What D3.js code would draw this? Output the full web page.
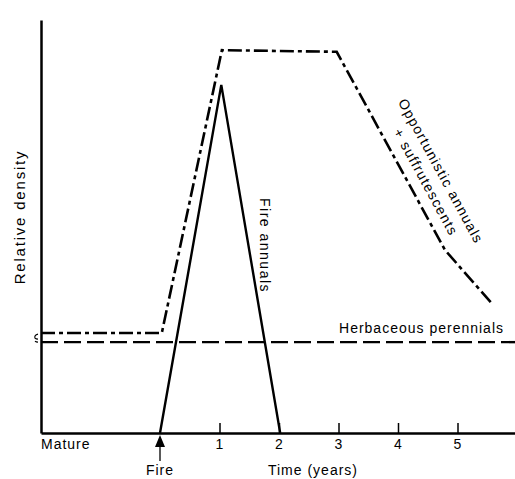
<!DOCTYPE html>
<html>
<head>
<meta charset="utf-8">
<script src="https://cdn.jsdelivr.net/npm/d3@7"></script>
<style>
  html, body { margin: 0; padding: 0; background: #fff; }
  svg { display: block; }
  text { font-family: "Liberation Sans", Arial, sans-serif; font-size: 14px; fill: #000; letter-spacing: 1px; }
</style>
</head>
<body>
<svg id="chart" width="515" height="479"></svg>
<script>
// ---- data (time in years relative to fire; relative density 0-100) ----
const opportunisticTime   = [-2, 0.03, 1.04, 2.97, 4.79, 5.6];
const opportunisticValue  = [24.2, 24.2, 92.7, 92.3, 44.3, 31.0];
const fireAnnualTime      = [0, 1.03, 2.02];
const fireAnnualValue     = [0, 84.3, 0];
const perennialTime       = [-2, 6];
const perennialValue      = [22, 22];
const tickYears           = [1, 2, 3, 4, 5];
const tickLabels          = ["1", "2", "3", "4", "5"];
const matureTime          = -2;
const fireTime            = 0;

const svg = d3.select("#chart");
const x = d3.scaleLinear().domain([-2, 6]).range([41, 517]);
const y = d3.scaleLinear().domain([0, 100]).range([433, 20]);

const line = d3.line().x(d => x(d[0])).y(d => y(d[1]));
const zip = (a, b) => a.map((v, i) => [v, b[i]]);

// axes
const yAxis = svg.append("g").attr("transform", `translate(${x(-2)},0)`)
  .call(d3.axisLeft(y).tickValues([]).tickSizeOuter(0));
yAxis.select(".domain").attr("stroke", "#000").attr("stroke-width", 2.5);

const xAxis = svg.append("g").attr("transform", `translate(0,${y(0)})`)
  .call(d3.axisBottom(x).tickValues(tickYears).tickFormat((d, i) => tickLabels[i])
        .tickSizeInner(-10).tickSizeOuter(0).tickPadding(6));
xAxis.select(".domain").attr("stroke", "#000").attr("stroke-width", 2.5);
xAxis.selectAll(".tick line").attr("stroke", "#000").attr("stroke-width", 1.5);
xAxis.selectAll(".tick text").attr("font-size", null).attr("font-family", null)
  .style("font-size", "14px");

// axis break mark
svg.append("path")
  .attr("d", `M${x(-2)-3},${y(24.2)+1} q-4,1 -3,4 q1,1 3,1 M${x(-2)-6},${y(22)-1} q1,1 3,1`)
  .attr("fill", "none").attr("stroke", "#000").attr("stroke-width", 1.2);

// series
svg.append("path").datum(zip(perennialTime, perennialValue)).attr("d", line)
  .attr("fill", "none").attr("stroke", "#000").attr("stroke-width", 2.4)
  .attr("stroke-dasharray", "17,6");

svg.append("path").datum(zip(opportunisticTime, opportunisticValue)).attr("d", line)
  .attr("fill", "none").attr("stroke", "#000").attr("stroke-width", 2.6)
  .attr("stroke-dasharray", "14,4,4,4");

svg.append("path").datum(zip(fireAnnualTime, fireAnnualValue)).attr("d", line)
  .attr("fill", "none").attr("stroke", "#000").attr("stroke-width", 2.4)
  .attr("stroke-linejoin", "miter");

// fire arrow
const fx = x(fireTime);
svg.append("path").attr("d", `M${fx},${y(0)+2} L${fx-5},${y(0)+14} L${fx+5},${y(0)+14} Z`).attr("fill", "#000");
svg.append("line").attr("x1", fx).attr("x2", fx).attr("y1", y(0)+13).attr("y2", y(0)+28)
  .attr("stroke", "#000").attr("stroke-width", 1.3);

// labels
svg.append("text").attr("x", x(matureTime)).attr("y", 449).text("Mature");
svg.append("text").attr("x", fx).attr("y", 475).attr("text-anchor", "middle").text("Fire");
svg.append("text").attr("x", 313).attr("y", 475).attr("text-anchor", "middle").text("Time (years)");

svg.append("text").attr("transform", "translate(25,217) rotate(-90)")
  .attr("text-anchor", "middle").style("font-size", "15px").style("letter-spacing", "1.8px")
  .text("Relative density");

svg.append("text").attr("x", 504).attr("y", 333).attr("text-anchor", "end")
  .text("Herbaceous perennials");

svg.append("text").attr("transform", "translate(265,245.5) rotate(90)")
  .attr("text-anchor", "middle").attr("dominant-baseline", "central")
  .style("letter-spacing", "1.5px").text("Fire annuals");

svg.append("text").attr("transform", "translate(441,171) rotate(61.4)")
  .attr("text-anchor", "middle").attr("dominant-baseline", "central")
  .style("letter-spacing", "1.3px").text("Opportunistic  annuals");
svg.append("text").attr("transform", "translate(426,182) rotate(61.4)")
  .attr("text-anchor", "middle").attr("dominant-baseline", "central")
  .style("letter-spacing", "1.3px").text("+  suffrutescents");
</script>
</body>
</html>
